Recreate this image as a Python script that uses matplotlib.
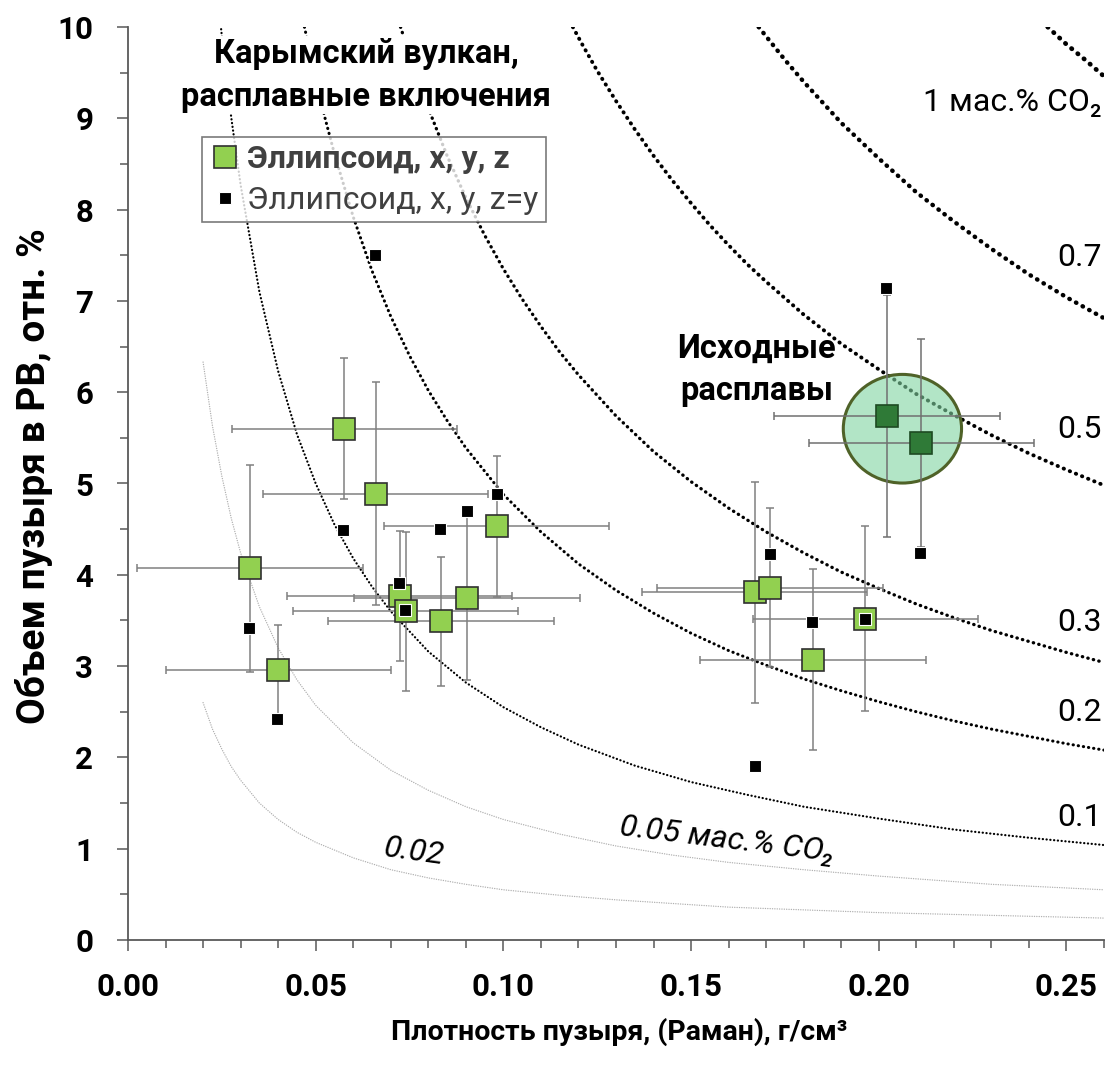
import numpy as np
import matplotlib.pyplot as plt
from matplotlib.patches import Ellipse
from matplotlib.lines import Line2D
from matplotlib.ticker import MultipleLocator, FormatStrFormatter

plt.rcParams['font.family'] = ['Roboto', 'DejaVu Sans']

# isolines of CO2 content (mass %)
iso_002_x = [0.020, 0.0225, 0.025, 0.0275, 0.030, 0.035, 0.040, 0.045, 0.050, 0.060, 0.070,
             0.080, 0.090, 0.100, 0.115, 0.130, 0.145, 0.160, 0.180, 0.200, 0.230, 0.260]
iso_002_y = [2.60, 2.31, 2.09, 1.90, 1.75, 1.50, 1.32, 1.18, 1.07, 0.90, 0.77,
             0.68, 0.61, 0.55, 0.49, 0.44, 0.40, 0.36, 0.33, 0.30, 0.27, 0.24]
iso_005_x = [0.020, 0.0225, 0.025, 0.0275, 0.030, 0.035, 0.040, 0.045, 0.050, 0.060, 0.070,
             0.080, 0.090, 0.100, 0.115, 0.130, 0.145, 0.160, 0.180, 0.200, 0.230, 0.260]
iso_005_y = [6.33, 5.63, 5.08, 4.62, 4.24, 3.65, 3.20, 2.85, 2.57, 2.16, 1.86,
             1.64, 1.46, 1.32, 1.16, 1.03, 0.93, 0.85, 0.77, 0.70, 0.61, 0.55]
iso_01_x = [0.0245, 0.025, 0.0275, 0.030, 0.035, 0.040, 0.045, 0.050, 0.055, 0.060, 0.065,
            0.070, 0.080, 0.090, 0.100, 0.110, 0.120, 0.135, 0.150, 0.165, 0.180, 0.200,
            0.220, 0.240, 0.260]
iso_01_y = [10.1, 9.90, 9.01, 8.27, 7.10, 6.23, 5.54, 5.00, 4.55, 4.18, 3.87,
            3.60, 3.16, 2.82, 2.55, 2.33, 2.14, 1.91, 1.73, 1.59, 1.46, 1.33,
            1.21, 1.12, 1.04]
iso_02_x = [0.047, 0.050, 0.0525, 0.055, 0.060, 0.065, 0.070, 0.075, 0.080, 0.085, 0.090,
            0.100, 0.110, 0.120, 0.130, 0.140, 0.150, 0.160, 0.170, 0.180, 0.190, 0.200,
            0.210, 0.220, 0.230, 0.240, 0.250, 0.260]
iso_02_y = [10.0, 9.44, 9.00, 8.61, 7.92, 7.33, 6.83, 6.40, 6.02, 5.69, 5.39,
            4.88, 4.47, 4.12, 3.83, 3.58, 3.36, 3.17, 3.01, 2.86, 2.73, 2.61,
            2.50, 2.40, 2.31, 2.23, 2.15, 2.08]
iso_03_x = [0.0726, 0.076, 0.080, 0.085, 0.090, 0.095, 0.100, 0.105, 0.110, 0.115, 0.120,
            0.130, 0.140, 0.150, 0.160, 0.170, 0.180, 0.190, 0.200, 0.210, 0.220, 0.230,
            0.240, 0.250, 0.260]
iso_03_y = [10.0, 9.57, 9.11, 8.59, 8.13, 7.72, 7.35, 7.02, 6.72, 6.44, 6.19,
            5.74, 5.35, 5.02, 4.73, 4.47, 4.24, 4.03, 3.85, 3.68, 3.53, 3.39,
            3.27, 3.15, 3.04]
iso_05_x = [0.1185, 0.121, 0.125, 0.130, 0.135, 0.140, 0.145, 0.150, 0.155, 0.160, 0.165,
            0.170, 0.175, 0.180, 0.185, 0.190, 0.200, 0.210, 0.220, 0.230, 0.240, 0.250, 0.260]
iso_05_y = [10.0, 9.81, 9.52, 9.19, 8.88, 8.59, 8.32, 8.07, 7.83, 7.61, 7.40,
            7.21, 7.03, 6.85, 6.69, 6.53, 6.25, 5.98, 5.75, 5.53, 5.33, 5.15, 4.98]
iso_07_x = [0.168, 0.175, 0.180, 0.190, 0.200, 0.210, 0.220, 0.230, 0.240, 0.250, 0.260]
iso_07_y = [10.0, 9.64, 9.40, 8.95, 8.56, 8.19, 7.87, 7.57, 7.29, 7.04, 6.81]
iso_1_x = [0.245, 0.250, 0.255, 0.260]
iso_1_y = [10.0, 9.81, 9.64, 9.46]

# ellipsoid x, y, z (green squares) with errors
ell_x = [0.0325, 0.0400, 0.0576, 0.0660, 0.0982, 0.0724, 0.0740, 0.0834, 0.0903,
         0.1669, 0.1710, 0.1825, 0.1964]
ell_y = [4.07, 2.96, 5.60, 4.89, 4.53, 3.77, 3.60, 3.49, 3.75,
         3.81, 3.86, 3.07, 3.52]
ell_xerr = [0.030] * 13
ell_yerr = [1.13, 0.49, 0.77, 1.22, 0.77, 0.71, 0.87, 0.71, 0.90,
            1.21, 0.87, 0.99, 1.01]

# initial melts (dark green squares)
src_x = [0.2022, 0.2113]
src_y = [5.74, 5.44]
src_xerr = [0.030, 0.030]
src_yerr = [1.33, 1.14]

# ellipsoid x, y, z=y (black squares)
ezy_x = [0.0322, 0.0397, 0.0574, 0.0658, 0.0982, 0.0723, 0.0738, 0.0832, 0.0902,
         0.1709, 0.1669, 0.1823, 0.1964, 0.2020, 0.2111]
ezy_y = [3.42, 2.42, 4.49, 7.50, 4.88, 3.91, 3.61, 4.50, 4.70,
         4.23, 1.91, 3.48, 3.52, 7.14, 4.24]

fig = plt.figure(figsize=(11.1, 10.7), dpi=100)
ax = fig.add_axes([128 / 1110, 130 / 1070, 976 / 1110, 913 / 1070])

curves = [
    (iso_002_x, iso_002_y, '#b0b0b0', 1.0),
    (iso_005_x, iso_005_y, '#b0b0b0', 1.0),
    (iso_01_x, iso_01_y, 'black', 1.6),
    (iso_02_x, iso_02_y, 'black', 2.2),
    (iso_03_x, iso_03_y, 'black', 2.4),
    (iso_05_x, iso_05_y, 'black', 2.8),
    (iso_07_x, iso_07_y, 'black', 3.2),
    (iso_1_x, iso_1_y, 'black', 3.4),
]
for cx, cy, col, lw in curves:
    ax.plot(cx, cy, color=col, lw=lw, ls=(0, (0.1, 1.6)), dash_capstyle='round',
            solid_capstyle='round', zorder=1)

ax.add_patch(Ellipse((0.2063, 5.60), 0.0315, 1.19, facecolor='#7fd4a0', alpha=0.6,
                     edgecolor='none', zorder=2))
ax.add_patch(Ellipse((0.2063, 5.60), 0.0315, 1.19, facecolor='none',
                     edgecolor='#4f6228', lw=2.2, zorder=2.1))

ax.errorbar(ell_x, ell_y, xerr=ell_xerr, yerr=ell_yerr, fmt='none', ecolor='#808080',
            elinewidth=1.1, capsize=3, capthick=1.1, zorder=3)
ax.errorbar(src_x, src_y, xerr=src_xerr, yerr=src_yerr, fmt='none', ecolor='#707070',
            elinewidth=1.1, capsize=3, capthick=1.1, zorder=3)

ax.plot(ell_x, ell_y, 's', ms=15.5, mfc='#92d050', mec='#303030', mew=1.2, ls='none', zorder=4)
ax.plot(src_x, src_y, 's', ms=15.5, mfc='#2f7a37', mec='#1d4a22', mew=1.2, ls='none', zorder=4)
ax.plot(ezy_x, ezy_y, 's', ms=8.6, mfc='black', mec='white', mew=0.8, ls='none', zorder=5)

ax.set_xlim(0, 0.26)
ax.set_ylim(0, 10)
ax.xaxis.set_major_locator(MultipleLocator(0.05))
ax.xaxis.set_minor_locator(MultipleLocator(0.01))
ax.xaxis.set_major_formatter(FormatStrFormatter('%.2f'))
ax.yaxis.set_major_locator(MultipleLocator(1))
ax.yaxis.set_minor_locator(MultipleLocator(0.5))
for s in ['top', 'right']:
    ax.spines[s].set_visible(False)
for s in ['left', 'bottom']:
    ax.spines[s].set_color('#595959')
    ax.spines[s].set_linewidth(1.3)
ax.tick_params(which='major', direction='out', length=8, width=1.1, color='#595959',
               labelsize=22.5)
ax.tick_params(which='minor', direction='out', length=6, width=1.1, color='#595959')
ax.tick_params(axis='x', which='major', pad=15)
ax.tick_params(axis='y', which='major', pad=17)
for lab in ax.get_xticklabels() + ax.get_yticklabels():
    lab.set_fontweight('bold')

ax.set_xlabel('Плотность пузыря, (Раман), г/см³', fontsize=20.5, fontweight='bold')
ax.set_ylabel('Объем пузыря в РВ, отн. %', fontsize=28, fontweight='bold')
ax.xaxis.set_label_coords(0.503, -0.085)
ax.yaxis.set_label_coords(-0.077, 0.508)

ax.text(0.0634, 9.47, 'Карымский вулкан,\nрасплавные включения', ha='center', va='center',
        fontsize=23.5, fontweight='bold', linespacing=1.45, zorder=6,
        bbox=dict(facecolor='white', edgecolor='none', pad=1))
ax.text(0.1675, 6.24, 'Исходные\nрасплавы', ha='center', va='center', fontsize=23.5,
        fontweight='bold', linespacing=1.4, zorder=6)

right_labels = [('1 мас.% CO₂', 9.17), ('0.7', 7.48), ('0.5', 5.59), ('0.3', 3.48),
                ('0.2', 2.49), ('0.1', 1.34)]
for txt, yy in right_labels:
    ax.text(0.2595, yy, txt, ha='right', va='center', fontsize=23, zorder=6)
ax.text(0.1597, 1.095, '0.05 мас.% CO₂', ha='center', va='center', fontsize=23,
        style='italic', rotation=-7, rotation_mode='anchor', zorder=6)
ax.text(0.0761, 0.964, '0.02', ha='center', va='center', fontsize=23,
        style='italic', rotation=-8, rotation_mode='anchor', zorder=6)

handles = [
    Line2D([], [], marker='s', ls='none', ms=15.5, mfc='#92d050', mec='#303030', mew=1.2),
    Line2D([], [], marker='s', ls='none', ms=8.6, mfc='black', mec='white', mew=0.8),
]
leg = ax.legend(handles, ['Эллипсоид, x, y, z', 'Эллипсоид, x, y, z=y'],
                loc='upper left', bbox_to_anchor=(0.0758, 0.8795), borderaxespad=0,
                fontsize=23, frameon=True, fancybox=False, handletextpad=0.2,
                handlelength=1.0, borderpad=0.22, labelspacing=0.38)
leg.get_frame().set_edgecolor('#595959')
leg.get_frame().set_linewidth(1.2)
leg.set_zorder(7)
for t in leg.get_texts():
    t.set_color('#404040')
leg.get_texts()[0].set_fontweight('bold')

fig.savefig('out.png', dpi=100)
